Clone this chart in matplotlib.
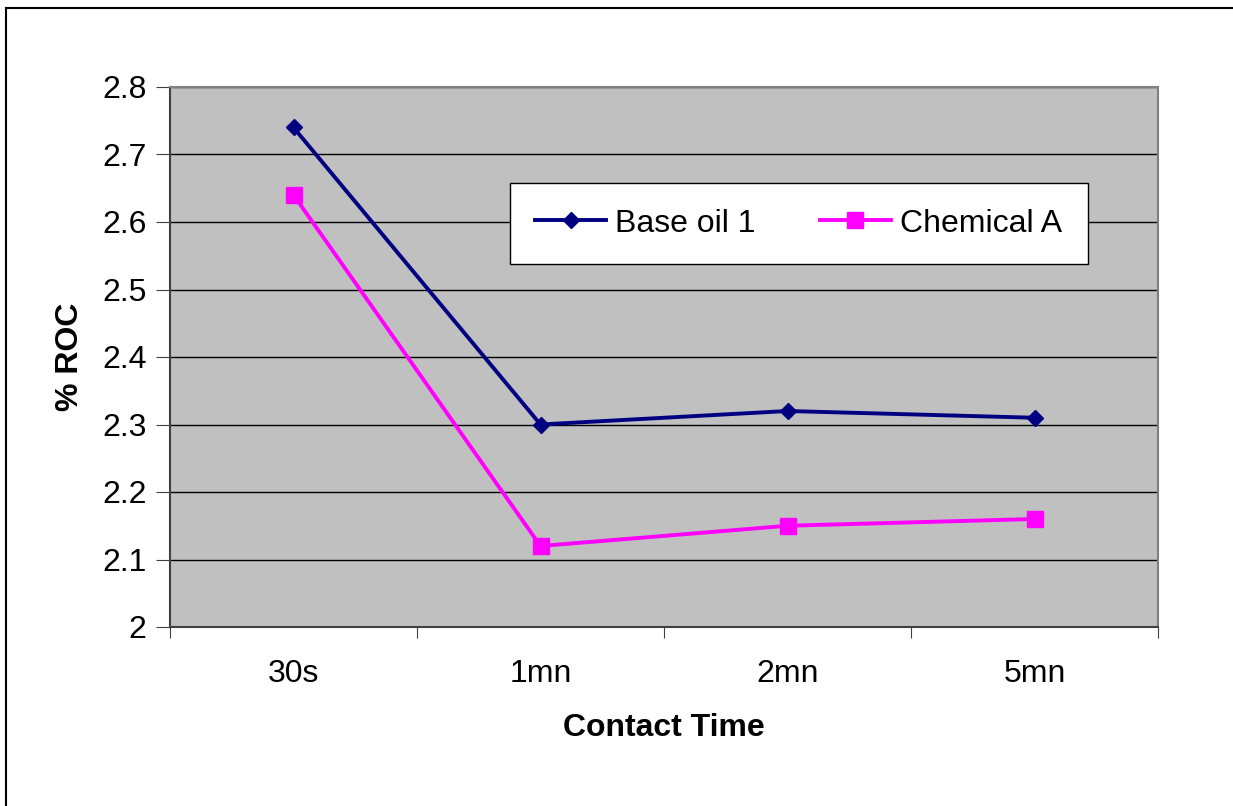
import matplotlib
matplotlib.use("Agg")
from matplotlib import pyplot as plt
from matplotlib.patches import Rectangle
import numpy as np

# Data
categories = ["30s", "1mn", "2mn", "5mn"]
base_oil = [2.74, 2.30, 2.32, 2.31]
chemical_a = [2.64, 2.12, 2.15, 2.16]
y_ticks = [2.0, 2.1, 2.2, 2.3, 2.4, 2.5, 2.6, 2.7, 2.8]
y_tick_labels = ["2", "2.1", "2.2", "2.3", "2.4", "2.5", "2.6", "2.7", "2.8"]

plt.rcParams['font.family'] = ['Liberation Sans', 'DejaVu Sans']
fs = 23

fig = plt.figure(figsize=(12.33, 8.06), dpi=100)
ax = fig.add_axes([170/1233, 1 - 627/806, 988/1233, 540/806])
ax.set_facecolor('#C0C0C0')

x = np.arange(len(categories))
ax.plot(x, base_oil, color='#000080', lw=2.8, marker='D', markersize=8.5,
        label='Base oil 1', zorder=3)
ax.plot(x, chemical_a, color='#FF00FF', lw=2.8, marker='s', markersize=11,
        label='Chemical A', zorder=3)

ax.set_xlim(-0.5, len(categories) - 0.5)
ax.set_ylim(2.0, 2.8)

# y axis: gridlines on every tick
ax.set_yticks(y_ticks)
ax.set_yticklabels(y_tick_labels, fontsize=fs)
ax.yaxis.grid(True, color='black', lw=1)
ax.set_axisbelow(True)

# x axis: ticks between categories, labels centered on categories
ax.set_xticks(np.arange(-0.5, len(categories), 1.0))
ax.set_xticklabels([])
ax.set_xticks(x, minor=True)
ax.set_xticklabels(categories, minor=True, fontsize=fs)
ax.tick_params(axis='x', which='minor', length=0, pad=23)
ax.tick_params(axis='x', which='major', direction='out', length=8, color='#404040')
ax.tick_params(axis='y', direction='out', length=10, color='#404040', pad=7)

for s in ['left', 'bottom']:
    ax.spines[s].set_color('#404040')
    ax.spines[s].set_linewidth(1.5)
for s in ['top', 'right']:
    ax.spines[s].set_color('#808080')
    ax.spines[s].set_linewidth(1.5)

ax.set_xlabel("Contact Time", fontsize=fs, fontweight='bold', labelpad=17)
ax.set_ylabel("% ROC", fontsize=fs, fontweight='bold', labelpad=12)

leg = ax.legend(loc='center', bbox_to_anchor=(0.344, 0.670, 0.585, 0.154),
                mode='expand', ncol=2, fontsize=fs, frameon=True, fancybox=False,
                framealpha=1, edgecolor='black', handlelength=2.2,
                handletextpad=0.3, borderaxespad=0, columnspacing=1.5,
                borderpad=0.8)
leg.get_frame().set_linewidth(1)

# outer chart border
fig.patches.append(Rectangle((6/1233, -0.01), 1.1, 1 - 8/806 + 0.01,
                             transform=fig.transFigure, fill=False,
                             edgecolor='black', lw=1.5))

fig.savefig("out.png", dpi=100)
